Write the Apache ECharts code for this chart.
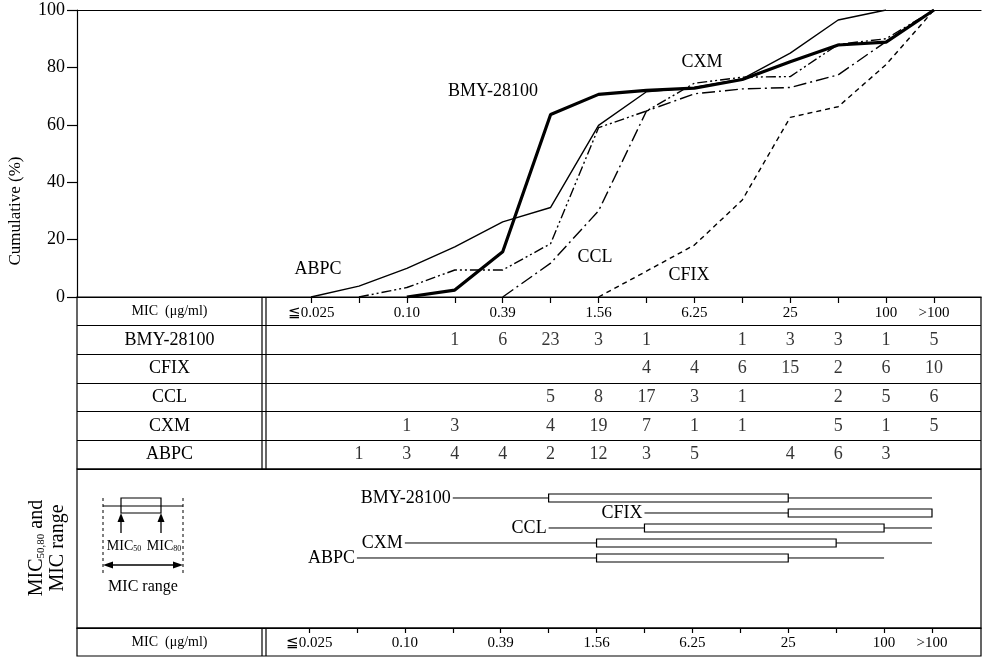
<!DOCTYPE html>
<html><head><meta charset="utf-8">
<script src="https://cdn.jsdelivr.net/npm/echarts@6/dist/echarts.min.js"></script>
<style>html,body{margin:0;padding:0;background:#fff}#c{width:982px;height:658px}</style>
</head><body><div id="c"></div>
<script>
// ---- data ----
const micLabels = ['≦0.025','0.05','0.10','0.20','0.39','0.78','1.56','3.13','6.25','12.5','25','50','100','>100'];
const tickIdx = [0,1,2,3,4,5,6,7,8,9,10,11,12,13];
const labeledIdx = [0,2,4,6,8,10,12,13];
const drugs = ['BMY-28100','CFIX','CCL','CXM','ABPC'];
const tableRows = ['MIC (μg/ml)','BMY-28100','CFIX','CCL','CXM','ABPC'];

// cumulative %
const cumBMY  = [null,null,0,2.4,15.8,63.6,70.6,72.0,72.8,75.8,82.0,87.8,88.8,100];
const cumCFIX = [null,null,null,null,null,null,0,9.0,18.1,33.8,62.6,66.3,81.0,100];
const cumCCL  = [null,null,null,null,0,11.8,30.0,64.8,70.8,72.5,73.0,77.4,89.0,100];
const cumCXM  = [null,0,3.3,9.4,9.4,18.6,59.0,64.8,74.5,76.6,76.8,88.0,90.0,100];
const cumABPC = [0,3.8,10.0,17.5,26.2,31.2,59.8,71.5,73.0,76.0,85.0,96.5,100,null];

// number of strains per MIC
const cntBMY  = [null,null,null,1,6,23,3,1,null,1,3,3,1,5];
const cntCFIX = [null,null,null,null,null,null,null,4,4,6,15,2,6,10];
const cntCCL  = [null,null,null,null,null,5,8,17,3,1,null,2,5,6];
const cntCXM  = [null,null,1,3,null,4,19,7,1,1,null,5,1,5];
const cntABPC = [null,1,3,4,4,2,12,3,5,null,4,6,3,null];

// MIC range (index into micLabels) and MIC50 / MIC80
const rangeLo = [3,7,5,2,1];
const rangeHi = [13,13,13,13,12];
const mic50   = [5,10,7,6,6];
const mic80   = [10,13,12,11,10];

// ---- chart ----
const FONT = "'Liberation Serif', 'DejaVu Serif', serif";
const BLACK = '#000';
const xMinA = -(311-77)/47.92, xMaxA = 13 + (981-934)/47.92;
const xMinC = -(309-77)/47.92, xMaxC = 13 + (981-932)/47.92;

const chart = echarts.init(document.getElementById('c'));
const txt = (size) => ({color:BLACK, fontSize:size, fontFamily:FONT});

function curve(name, arr, lineStyle){
  return {type:'line', name, xAxisIndex:0, yAxisIndex:0, symbol:'none', smooth:false,
    data: arr.map((v,i)=>[i,v]).filter(d=>d[1]!==null),
    lineStyle: Object.assign({color:BLACK}, lineStyle), z:5};
}
function countSeries(row, arr){
  return {type:'scatter', xAxisIndex:2, yAxisIndex:1, symbolSize:0.1,
    itemStyle:{color:'transparent'},
    data: arr.map((v,i)=>[i,row,v]).filter(d=>d[2]!==null),
    label:{show:true, position:'inside', formatter:p=>String(p.value[2]), color:BLACK, fontSize:18, fontFamily:FONT}};
}

const rowLabelRich = {h:{fontSize:14, fontFamily:FONT, color:BLACK}, r:{fontSize:18, fontFamily:FONT, color:BLACK}};
const rowLabelFmt = v => v.indexOf('MIC')===0 ? '{h|MIC  (μg/ml)}' : '{r|'+v+'}';

const option = {
  animation:false,
  backgroundColor:'#fff',
  grid:[
    {left:77, right:1, top:10, height:287, show:false},
    {left:77, right:1, top:297, height:172, show:true, borderColor:BLACK, borderWidth:1.2, backgroundColor:'transparent'},
    {left:77, right:1, top:469, height:159, show:true, borderColor:BLACK, borderWidth:1.2, backgroundColor:'transparent'},
    {left:77, right:1, top:628, height:28, show:true, borderColor:BLACK, borderWidth:1.2, backgroundColor:'transparent'}
  ],
  xAxis:[
    {gridIndex:0, type:'value', min:xMinA, max:xMaxA, position:'bottom',
      axisLine:{show:true, onZero:false, lineStyle:{color:BLACK, width:1.2}},
      axisTick:{show:true, length:6, customValues:tickIdx, lineStyle:{color:BLACK, width:1.2}},
      axisLabel:{customValues:labeledIdx, formatter:v=>micLabels[Math.round(v)], margin:9, ...txt(15)},
      splitLine:{show:false}},
    {gridIndex:0, type:'value', min:xMinA, max:xMaxA, position:'top',
      axisLine:{show:true, onZero:false, lineStyle:{color:BLACK, width:1.2}},
      axisTick:{show:false}, axisLabel:{show:false}, splitLine:{show:false}},
    {gridIndex:1, type:'value', min:xMinA, max:xMaxA, show:false},
    {gridIndex:2, type:'value', min:xMinC, max:xMaxC, position:'bottom',
      axisLine:{show:true, onZero:false, lineStyle:{color:BLACK, width:1.2}},
      axisTick:{show:true, length:5, customValues:tickIdx, lineStyle:{color:BLACK, width:1.2}},
      axisLabel:{customValues:labeledIdx, formatter:v=>micLabels[Math.round(v)], margin:8, ...txt(15)},
      splitLine:{show:false}},
    {gridIndex:3, type:'value', min:xMinC, max:xMaxC, show:false}
  ],
  yAxis:[
    {gridIndex:0, type:'value', min:0, max:100, interval:20,
      axisLine:{show:true, onZero:false, lineStyle:{color:BLACK, width:1.2}},
      axisTick:{show:true, length:10, lineStyle:{color:BLACK, width:1.2}},
      axisLabel:{margin:12, ...txt(18)}, splitLine:{show:false}},
    {gridIndex:1, type:'category', data:tableRows, inverse:true,
      axisLine:{show:false}, axisTick:{show:false},
      axisLabel:{inside:true, margin:92.5, align:'center', formatter:rowLabelFmt, rich:rowLabelRich, color:BLACK},
      splitLine:{show:true, lineStyle:{color:BLACK, width:1.2}}},
    {gridIndex:2, type:'value', min:-1.933, max:8.667, inverse:true, show:false},
    {gridIndex:3, type:'category', data:['MIC (μg/ml)'],
      axisLine:{show:false}, axisTick:{show:false},
      axisLabel:{inside:true, margin:92.5, align:'center', formatter:rowLabelFmt, rich:rowLabelRich, color:BLACK},
      splitLine:{show:false}}
  ],
  series:[
    curve('ABPC', cumABPC, {width:1.4, type:'solid'}),
    curve('CXM', cumCXM, {width:1.4, type:[10,3,2,3,2,3]}),
    curve('CCL', cumCCL, {width:1.4, type:[13,4,2,4]}),
    curve('CFIX', cumCFIX, {width:1.4, type:[5,4]}),
    curve('BMY-28100', cumBMY, {width:3.2, type:'solid'}),
    countSeries('BMY-28100', cntBMY),
    countSeries('CFIX', cntCFIX),
    countSeries('CCL', cntCCL),
    countSeries('CXM', cntCXM),
    countSeries('ABPC', cntABPC),
    {type:'custom', xAxisIndex:3, yAxisIndex:2,
      data: drugs.map((d,i)=>[rangeLo[i], rangeHi[i], mic50[i], mic80[i], i]),
      encode:{x:[0,1,2,3], y:4},
      renderItem:(params, api)=>{
        const r = api.value(4);
        const lo = api.coord([api.value(0), r]);
        const hi = api.coord([api.value(1), r]);
        const a = api.coord([api.value(2), r]);
        const b = api.coord([api.value(3), r]);
        return {type:'group', children:[
          {type:'line', shape:{x1:lo[0], y1:lo[1], x2:hi[0], y2:hi[1]}, style:{stroke:BLACK, lineWidth:1}},
          {type:'rect', shape:{x:a[0], y:a[1]-4, width:b[0]-a[0], height:8}, style:{fill:'#fff', stroke:BLACK, lineWidth:1.2}},
          {type:'text', x:lo[0]-2, y:lo[1], style:{text:drugs[params.dataIndex], fill:BLACK, fontSize:18, fontFamily:FONT, align:'right', verticalAlign:'middle'}}
        ]};
      }}
  ],
  graphic:[
    // double vertical rules of the tables
    {type:'line', shape:{x1:262, y1:297, x2:262, y2:469}, style:{stroke:BLACK, lineWidth:1.2}},
    {type:'line', shape:{x1:266, y1:297, x2:266, y2:469}, style:{stroke:BLACK, lineWidth:1.2}},
    {type:'line', shape:{x1:262, y1:628, x2:262, y2:656}, style:{stroke:BLACK, lineWidth:1.2}},
    {type:'line', shape:{x1:266, y1:628, x2:266, y2:656}, style:{stroke:BLACK, lineWidth:1.2}},
    // axis title
    {type:'text', x:16, y:211, rotation:Math.PI/2, style:{text:'Cumulative (%)', fill:BLACK, fontSize:17, fontFamily:FONT, align:'center', verticalAlign:'middle'}},
    // curve labels
    {type:'text', x:493, y:91, style:{text:'BMY-28100', fill:BLACK, fontSize:18, fontFamily:FONT, align:'center', verticalAlign:'middle'}},
    {type:'text', x:702, y:62, style:{text:'CXM', fill:BLACK, fontSize:18, fontFamily:FONT, align:'center', verticalAlign:'middle'}},
    {type:'text', x:318, y:269, style:{text:'ABPC', fill:BLACK, fontSize:18, fontFamily:FONT, align:'center', verticalAlign:'middle'}},
    {type:'text', x:595, y:257, style:{text:'CCL', fill:BLACK, fontSize:18, fontFamily:FONT, align:'center', verticalAlign:'middle'}},
    {type:'text', x:689, y:275, style:{text:'CFIX', fill:BLACK, fontSize:18, fontFamily:FONT, align:'center', verticalAlign:'middle'}},
    // MIC range section title
    {type:'text', x:47, y:548, rotation:Math.PI/2, style:{
      text:'{a|MIC}{s|50,80}{a| and}\n{a|MIC range}', align:'center', verticalAlign:'middle', fill:BLACK,
      rich:{a:{fontSize:20, fontFamily:FONT, fill:BLACK, lineHeight:21}, s:{fontSize:11, fontFamily:FONT, fill:BLACK, padding:[9,0,0,0]}}}},
    // schematic key
    {type:'line', shape:{x1:103, y1:498, x2:103, y2:576}, style:{stroke:BLACK, lineWidth:1, lineDash:[3,3]}},
    {type:'line', shape:{x1:183, y1:498, x2:183, y2:576}, style:{stroke:BLACK, lineWidth:1, lineDash:[3,3]}},
    {type:'line', shape:{x1:103, y1:506, x2:183, y2:506}, style:{stroke:BLACK, lineWidth:1.2}},
    {type:'rect', shape:{x:121, y:498, width:40, height:15}, style:{fill:'none', stroke:BLACK, lineWidth:1.2}},
    {type:'line', shape:{x1:121, y1:520, x2:121, y2:533}, style:{stroke:BLACK, lineWidth:1.3}},
    {type:'line', shape:{x1:161, y1:520, x2:161, y2:533}, style:{stroke:BLACK, lineWidth:1.3}},
    {type:'polygon', shape:{points:[[121,513],[117.5,522],[124.5,522]]}, style:{fill:BLACK}},
    {type:'polygon', shape:{points:[[161,513],[157.5,522],[164.5,522]]}, style:{fill:BLACK}},
    {type:'text', x:124, y:546, style:{text:'{a|MIC}{s|50}', align:'center', verticalAlign:'middle', fill:BLACK,
      rich:{a:{fontSize:14, fontFamily:FONT, fill:BLACK}, s:{fontSize:8, fontFamily:FONT, fill:BLACK, padding:[6,0,0,0]}}}},
    {type:'text', x:164, y:546, style:{text:'{a|MIC}{s|80}', align:'center', verticalAlign:'middle', fill:BLACK,
      rich:{a:{fontSize:14, fontFamily:FONT, fill:BLACK}, s:{fontSize:8, fontFamily:FONT, fill:BLACK, padding:[6,0,0,0]}}}},
    {type:'line', shape:{x1:110, y1:565, x2:176, y2:565}, style:{stroke:BLACK, lineWidth:1.3}},
    {type:'polygon', shape:{points:[[103,565],[113,561.5],[113,568.5]]}, style:{fill:BLACK}},
    {type:'polygon', shape:{points:[[183,565],[173,561.5],[173,568.5]]}, style:{fill:BLACK}},
    {type:'text', x:143, y:587, style:{text:'MIC range', fill:BLACK, fontSize:16, fontFamily:FONT, align:'center', verticalAlign:'middle'}}
  ]
};
chart.setOption(option);
</script></body></html>
